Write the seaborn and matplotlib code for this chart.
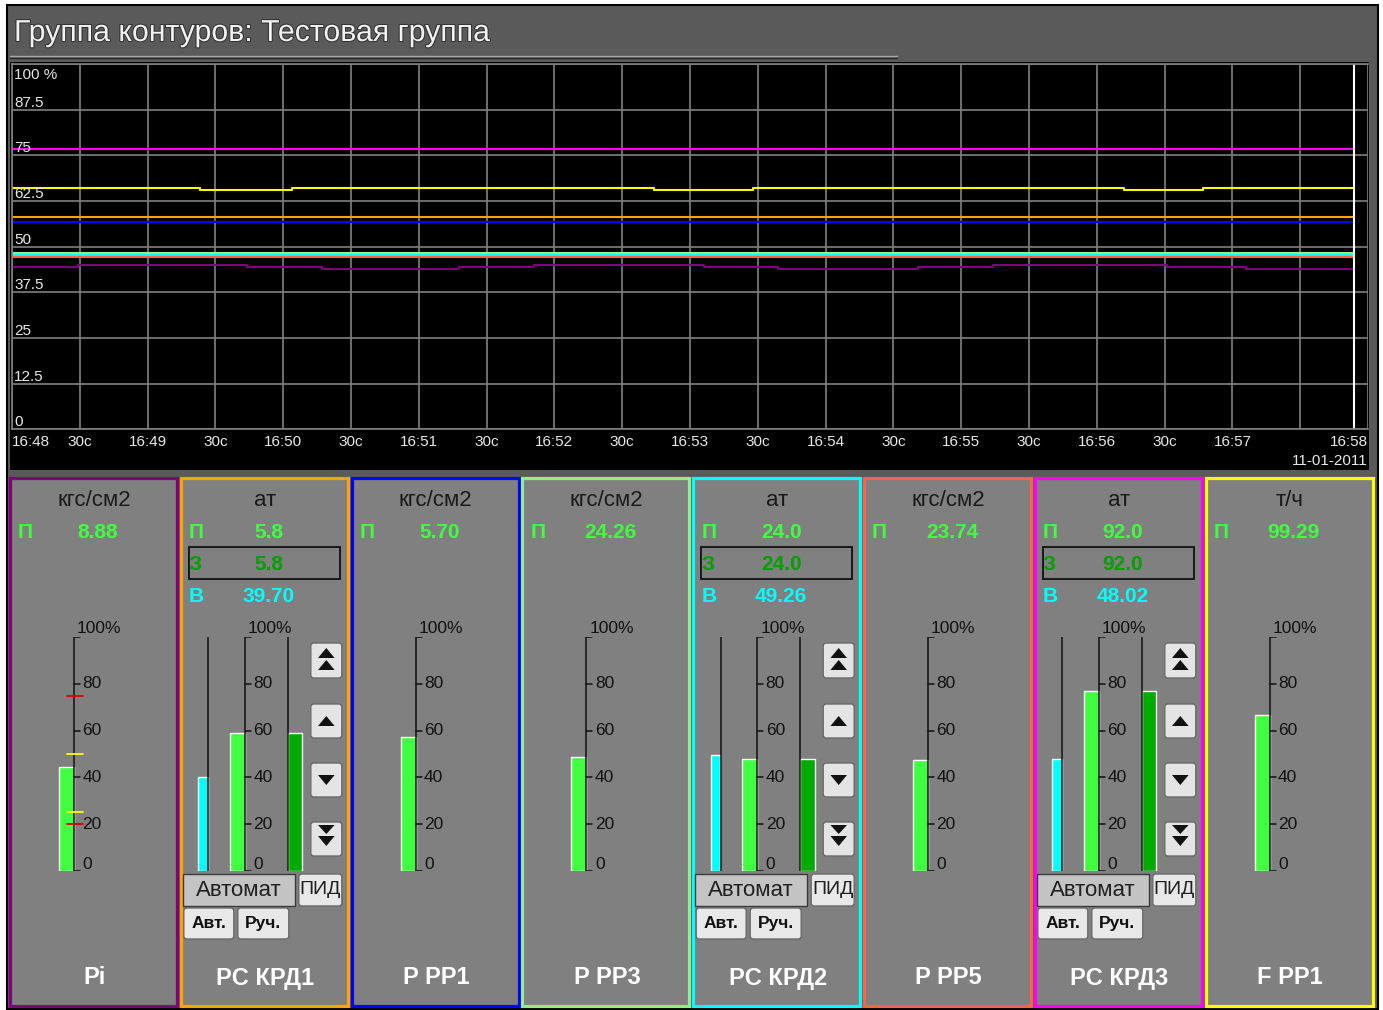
import pandas as pd
import matplotlib
matplotlib.use("Agg")
import matplotlib.pyplot as plt
from matplotlib.patches import Rectangle, FancyBboxPatch, Polygon
import matplotlib.patheffects as pe
import seaborn as sns

sns.set_theme(style="white")
plt.rcParams["font.family"] = ["Liberation Sans", "DejaVu Sans"]

W, H = 1383, 1010

TITLE = "Группа контуров: Тестовая группа"

# loops shown in the group
tags = ["Pi", "PC КРД1", "P PP1", "P PP3", "PC КРД2", "P PP5", "PC КРД3", "F PP1"]
colors = ["#800080", "#ffa500", "#0000ff", "#90ee90", "#00ffff", "#ff6347", "#ff00ff", "#ffff00"]
units = ["кгс/см2", "ат", "кгс/см2", "кгс/см2", "ат", "кгс/см2", "ат", "т/ч"]
pv_text = ["8.88", "5.8", "5.70", "24.26", "24.0", "23.74", "92.0", "99.29"]
sp_text = [None, "5.8", None, None, "24.0", None, "92.0", None]
out_text = [None, "39.70", None, None, "49.26", None, "48.02", None]
pv_pct = [44.6, 58.9, 57.4, 48.7, 48.0, 47.4, 76.8, 66.6]
sp_pct = [None, 58.9, None, None, 48.0, None, 76.8, None]
out_pct = [None, 40.0, None, None, 49.4, None, 47.8, None]

# alarm marks on the Pi gauge
alarm_hi = [75, 20]
alarm_lo = [50, 25]

# trend, seconds after 16:48:00 and percent of scale
trend_t = {
    "Pi": [0, 29, 104, 137, 198, 231, 306, 339, 401, 434, 511, 546, 594],
    "PC КРД1": [0, 594],
    "P PP1": [0, 594],
    "P PP3": [0, 594],
    "PC КРД2": [0, 594],
    "P PP5": [0, 594],
    "PC КРД3": [0, 594],
    "F PP1": [0, 83, 124, 284, 328, 492, 527, 594],
}
trend_v = {
    "Pi": [44.35, 44.9, 44.35, 43.9, 44.35, 44.9, 44.35, 43.9, 44.35, 44.9, 44.35, 43.9, 43.9],
    "PC КРД1": [58.2, 58.2],
    "P PP1": [56.8, 56.8],
    "P PP3": [48.2, 48.2],
    "PC КРД2": [47.8, 47.8],
    "P PP5": [47.2, 47.2],
    "PC КРД3": [76.6, 76.6],
    "F PP1": [66.0, 65.5, 66.0, 65.5, 66.0, 65.5, 66.0, 66.0],
}
cursor_t = 594

x_ticks = list(range(0, 601, 30))
x_labels = ["16:48", "30с", "16:49", "30с", "16:50", "30с", "16:51", "30с", "16:52", "30с",
            "16:53", "30с", "16:54", "30с", "16:55", "30с", "16:56", "30с", "16:57", "", "16:58"]
date_label = "11-01-2011"
y_ticks = [0, 12.5, 25, 37.5, 50, 62.5, 75, 87.5, 100]
y_labels = ["0", "12.5", "25", "37.5", "50", "62.5", "75", "87.5", "100 %"]
gauge_ticks = [0, 20, 40, 60, 80]


def frac(x0, y0, x1, y1):
    return [x0 / W, 1 - y1 / H, (x1 - x0) / W, (y1 - y0) / H]


fig = plt.figure(figsize=(W / 100, H / 100), dpi=100, facecolor="white")

# background layer in pixel coordinates
bg = fig.add_axes([0, 0, 1, 1])
bg.set_xlim(0, W)
bg.set_ylim(H, 0)
bg.axis("off")
bg.add_patch(Rectangle((7, 5), 1371, 1004, fc="#5a5a5a", ec="black", lw=1.5))
bg.text(14, 33, TITLE, fontsize=21.8, color="#f2f2f2", ha="left", va="center",
        path_effects=[pe.withStroke(linewidth=1.5, foreground="#333333")])
bg.plot([10, 897], [56, 56], color="#a8a8a8", lw=1)
bg.plot([10, 897], [58, 58], color="#2a2a2a", lw=1)
bg.add_patch(Rectangle((10, 62), 1359, 408, fc="black", ec="none"))

# trend chart
df = pd.DataFrame(
    [(tag, t, v) for tag in tags for t, v in zip(trend_t[tag], trend_v[tag])],
    columns=["tag", "t", "v"],
)
ax = fig.add_axes(frac(12, 64, 1368, 429.3))
ax.set_facecolor("black")
sns.lineplot(data=df, x="t", y="v", hue="tag", hue_order=tags,
             palette=dict(zip(tags, colors)), estimator=None, legend=False,
             drawstyle="steps-post", linewidth=1.5, ax=ax)
ax.axvline(cursor_t, color="white", lw=1.5)
ax.set_xlim(0, 600)
ax.set_ylim(0, 100)
ax.set_xticks(x_ticks)
ax.set_yticks(y_ticks)
ax.grid(True, color="#808080", lw=1.2)
ax.set_axisbelow(True)
ax.tick_params(length=0, labelbottom=False, labelleft=False)
ax.set_xlabel("")
ax.set_ylabel("")
for s in ax.spines.values():
    s.set_color("#808080")
    s.set_linewidth(1.2)
ax.spines["right"].set_visible(False)

for v, lab in zip(y_ticks, y_labels):
    if v == 100:
        ax.text(1, v - 1.2, lab, fontsize=11, color="#e8e8e8", ha="left", va="top")
    else:
        ax.text(1, v + 0.8, lab, fontsize=11, color="#e8e8e8", ha="left", va="baseline")
for t, lab in zip(x_ticks, x_labels):
    ha = "left" if t == 0 else ("right" if t == 600 else "center")
    ax.text(t, -3.6, lab, fontsize=11, color="#e8e8e8", ha=ha, va="center", clip_on=False)
ax.text(600, -8.6, date_label, fontsize=11, color="#e8e8e8", ha="right", va="center", clip_on=False)


def button(x0, y0, x1, y1, fc="#e4e4e4"):
    bg.add_patch(FancyBboxPatch((x0, y0), x1 - x0, y1 - y0,
                                boxstyle="round,pad=0,rounding_size=3",
                                fc=fc, ec="#6a6a6a", lw=1))


def tri(cx, y_apex, y_base, half=8.3):
    bg.add_patch(Polygon([[cx, y_apex], [cx - half, y_base], [cx + half, y_base]],
                         closed=True, fc="#111111", ec="none"))


for i, tag in enumerate(tags):
    L = 10 + i * 170.8
    bg.add_patch(Rectangle((L, 478), 167, 528, fc="#808080", ec=colors[i], lw=2.3))
    bg.text(L + 84, 500, units[i], fontsize=16, color="#1a1a1a", ha="center", va="center")
    bg.text(L + 8, 532, "П", fontsize=15, fontweight="bold", color="#40ff40", ha="left", va="center")
    bg.text(L + 88, 532, pv_text[i], fontsize=15, fontweight="bold", color="#40ff40",
            ha="center", va="center")
    bg.text(L + 84.5, 978, tag, fontsize=17, fontweight="bold", color="white",
            ha="center", va="center")

    is_ctrl = sp_text[i] is not None
    if is_ctrl:
        bg.add_patch(Rectangle((L + 7.7, 547), 151.3, 32, fc="none", ec="#111111", lw=1.3))
        bg.text(L + 8, 564, "З", fontsize=15, fontweight="bold", color="#00a000",
                ha="left", va="center")
        bg.text(L + 88, 564, sp_text[i], fontsize=15, fontweight="bold", color="#00a000",
                ha="center", va="center")
        bg.text(L + 8, 596, "В", fontsize=15, fontweight="bold", color="#00ffff",
                ha="left", va="center")
        bg.text(L + 88, 596, out_text[i], fontsize=15, fontweight="bold", color="#00ffff",
                ha="center", va="center")

        # arrow buttons
        bx0, bx1 = L + 130, L + 161
        cx = (bx0 + bx1) / 2
        button(bx0, 643, bx1, 678)
        tri(cx, 648, 658)
        tri(cx, 660, 670)
        button(bx0, 704, bx1, 738)
        tri(cx, 716, 726)
        button(bx0, 763, bx1, 797)
        tri(cx, 785, 775)
        button(bx0, 822, bx1, 856)
        tri(cx, 834, 825)
        tri(cx, 846, 836)

        bg.add_patch(Rectangle((L + 2, 874), 112, 32, fc="#c4c4c4", ec="#3a3a3a", lw=1))
        bg.text(L + 58, 890, "Автомат", fontsize=16, color="#202020", ha="center", va="center")
        button(L + 118, 874, L + 161, 906, fc="#e8e8e8")
        bg.text(L + 139.5, 890, "ПИД", fontsize=14, color="#202020", ha="center", va="center")
        button(L + 3, 908, L + 53, 939, fc="#e8e8e8")
        bg.text(L + 28, 923.5, "Авт.", fontsize=12.5, fontweight="bold", color="#111111",
                ha="center", va="center")
        button(L + 57, 908, L + 108, 939, fc="#e8e8e8")
        bg.text(L + 82.5, 923.5, "Руч.", fontsize=12.5, fontweight="bold", color="#111111",
                ha="center", va="center")

    # bar gauge
    g = fig.add_axes(frac(L, 637.3, L + 167, 870.7))
    g.set_xlim(0, 167)
    g.set_ylim(0, 100)
    g.axis("off")
    g.patch.set_alpha(0)
    g.bar(49, pv_pct[i], width=15, align="edge", color="#40ff40")
    if is_ctrl:
        g.bar(17.5, out_pct[i], width=9.5, align="edge", color="#00ffff")
        g.bar(107, sp_pct[i], width=14.3, align="edge", color="#00aa00")
        g.plot([27.5, 27.5], [0, 100], color="#111111", lw=1.1)
        g.plot([107, 107], [0, 100], color="#111111", lw=1.1)
    g.plot([64, 64], [0, 100], color="#111111", lw=1.1)
    g.plot([64, 70], [100, 100], color="#111111", lw=1.1)
    g.text(67, 100.4, "100%", fontsize=12.5, color="#111111", ha="left", va="bottom")
    for v in gauge_ticks:
        g.plot([64, 70], [v, v], color="#111111", lw=1.1)
        g.text(72.5, v + (0.6 if v == 0 else 0), str(v), fontsize=12.5, color="#111111",
               ha="left", va="baseline" if v == 0 else "center")
    if i == 0:
        for v in alarm_hi:
            g.plot([56.7, 72.7], [v, v], color="#e00000", lw=1.3)
        for v in alarm_lo:
            g.plot([56.7, 72.7], [v, v], color="#ffff00", lw=1.3)

fig.savefig("out.png", dpi=100, facecolor="white")
